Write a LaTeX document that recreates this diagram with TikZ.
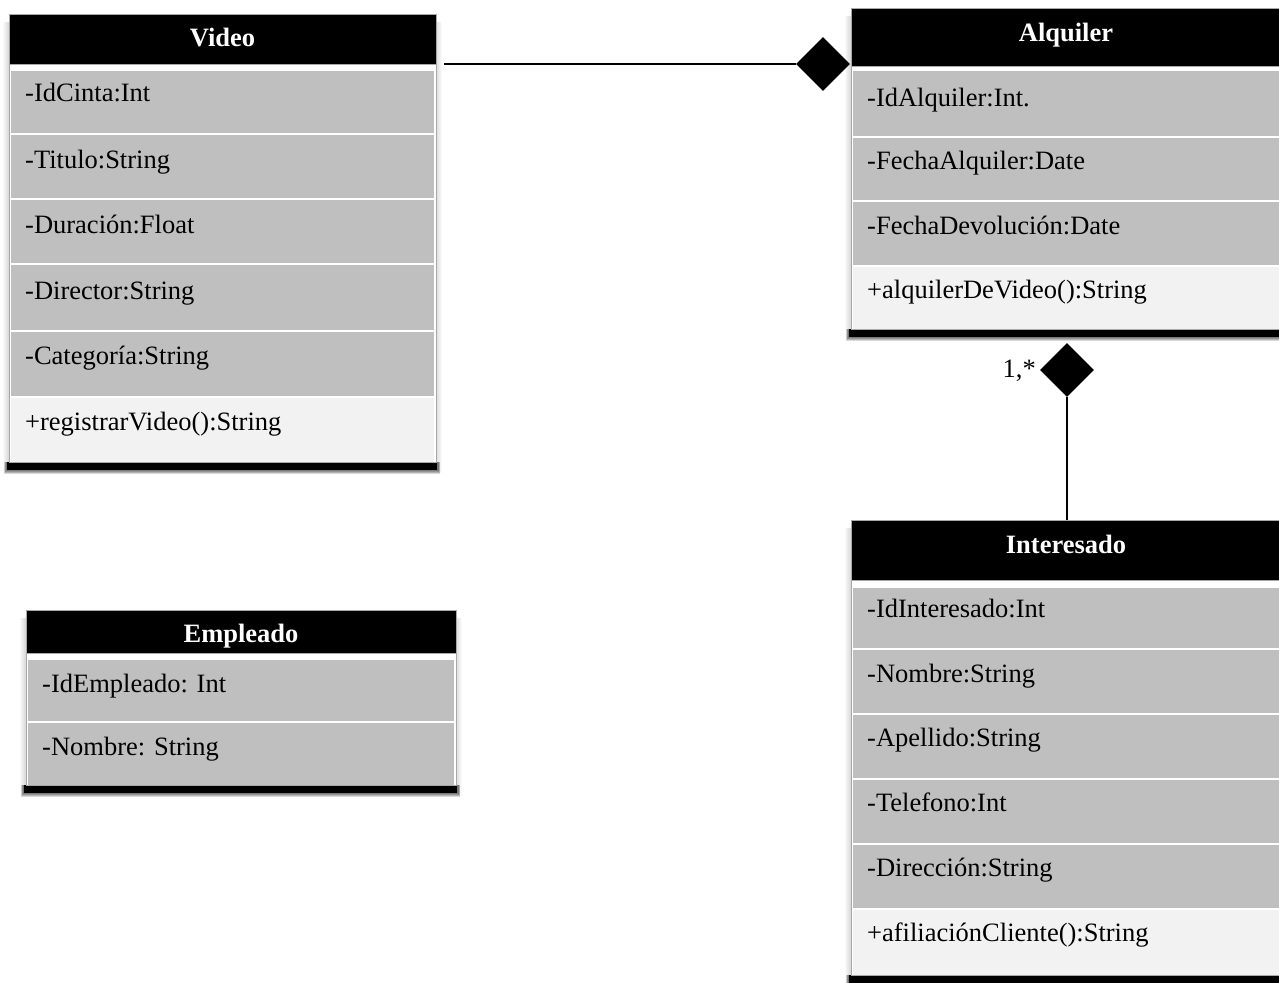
\documentclass[tikz,border=0pt]{standalone}
\usepackage{fontspec}
\setmainfont{Liberation Serif}
\usetikzlibrary{shapes.geometric}

\definecolor{rowgray}{HTML}{BFBFBF}
\definecolor{rowlight}{HTML}{F2F2F2}
\definecolor{edgegray}{HTML}{A8A8A8}

\newcommand\umlfont{\fontsize{26.5}{30}\selectfont}

\tikzset{
  hdr/.style={fill=black, draw=edgegray, line width=0.8pt, inner sep=0pt, anchor=north west},
  rowbox/.style={inner sep=0pt, anchor=north west, draw=none},
  hdrtext/.style={text=white, font=\umlfont\bfseries, anchor=base, inner sep=0pt},
  rowtext/.style={text=black, font=\umlfont, anchor=base west, inner sep=0pt},
  aggr/.style={diamond, fill=black, inner sep=0pt, minimum width=54pt, minimum height=54pt},
  link/.style={draw=black, line width=1.5pt},
}

% #1 name, #2 left, #3 right, #4 top, #5 header bottom, #6 bottom,
% #7 title, #8 title baseline, #9 rows: top/bottom/colour/baseline/text
\newcommand\umlclass[9]{%
  % soft shadow around the box and a dark band under it
  \foreach \sd in {1,...,6}{
    \fill[black, opacity=0.025] (#2-\sd, #4+8) rectangle (#3+\sd, #6+5+\sd);
  }
  \foreach \sd in {1,...,4}{
    \fill[black, opacity=0.15] (#2-3-\sd*0.5, #6) rectangle (#3+2+\sd*0.5, #6+8+\sd);
  }
  \fill[black] (#2-2, #6) rectangle (#3+1, #6+8);
  \fill[white] (#2, #4) rectangle (#3, #6);
  \node[hdr, minimum width={(#3-#2)*1pt}, minimum height={(#5-#4)*1pt}] (#1) at (#2, #4) {};
  \node[hdrtext] (#1-title) at ({(#2+#3)/2}, #8) {#7};
  \foreach \rt/\rb/\rc/\ry/\rs [count=\ri] in {#9}{
    \node[rowbox, fill=\rc, minimum width={(#3-#2-4)*1pt}, minimum height={(\rb-\rt)*1pt}]
      (#1-\ri) at (#2+2, \rt) {};
    \node[rowtext] (#1-\ri-text) at (#2+16, \ry) {\rs};
  }
  \draw[edgegray, line width=0.8pt] (#2, #4) rectangle (#3, #6);
}

\begin{document}
\begin{tikzpicture}[x=1pt, y=-1pt]
  \useasboundingbox[fill=white] (0,0) rectangle (1279,982);

  \umlclass{video}{9}{436}{14}{64}{462}{Video}{47}{
    71/133/rowgray/101/-IdCinta:Int,
    135/198/rowgray/168/-Titulo:String,
    200/263/rowgray/233/-Duración:Float,
    265/330/rowgray/299/-Director:String,
    332/396/rowgray/364/-Categoría:String,
    398/462/rowlight/430/+registrarVideo():String}

  \umlclass{alquiler}{851}{1281}{8}{66}{329}{Alquiler}{42}{
    71/136/rowgray/106/-IdAlquiler:Int.,
    138/200/rowgray/169/-FechaAlquiler:Date,
    202/265/rowgray/234/-FechaDevolución:Date,
    267/329/rowlight/298/+alquilerDeVideo():String}

  \umlclass{interesado}{851}{1281}{520}{580}{975}{Interesado}{553}{
    588/648/rowgray/617/-IdInteresado:Int,
    650/713/rowgray/682/-Nombre:String,
    715/778/rowgray/746/-Apellido:String,
    780/843/rowgray/811/-Telefono:Int,
    845/908/rowgray/876/-Dirección:String,
    910/975/rowlight/941/+afiliaciónCliente():String}

  \umlclass{empleado}{26}{456}{610}{653}{785}{Empleado}{642}{
    660/721/rowgray/692/-IdEmpleado: Int,
    723/785/rowgray/755/-Nombre: String}

  % aggregation diamonds and their connectors
  \node[aggr] (aggr1) at (823,64) {};
  \node[aggr] (aggr2) at (1067,370) {};
  \coordinate (video-end) at ([xshift=7pt]video.south east);
  \draw[link] (aggr1.west) -- (aggr1.west -| video-end);
  \draw[link] (aggr2.south) -- (aggr2.south |- interesado.north);
  \node[rowtext, anchor=base east] (mult) at (1036,377) {1,*};
\end{tikzpicture}
\end{document}
